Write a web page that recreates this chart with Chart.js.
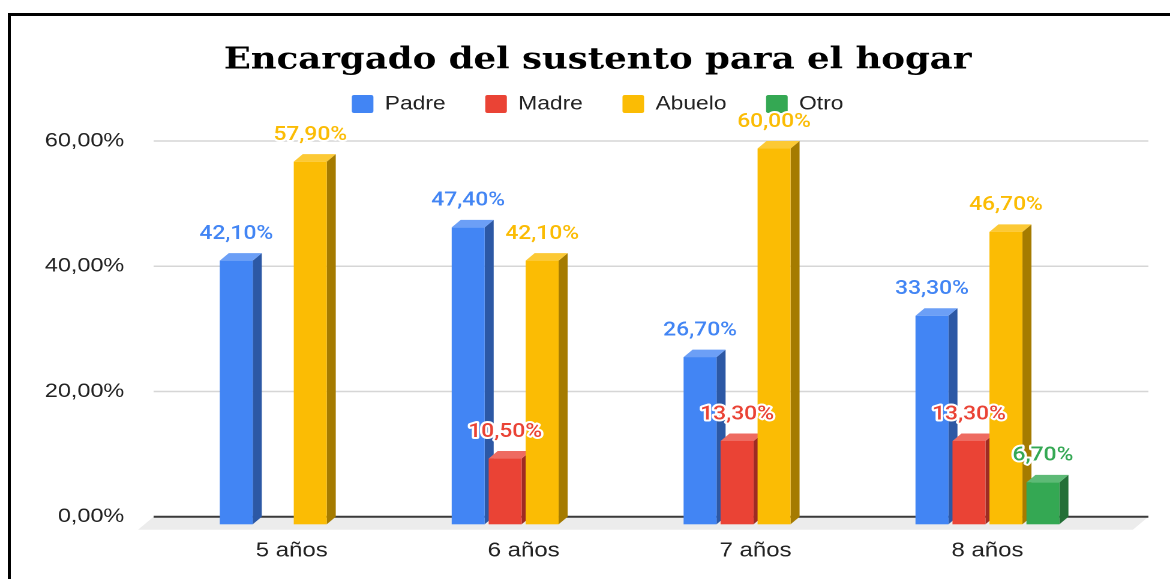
<!DOCTYPE html>
<html lang="es">
<head>
<meta charset="utf-8">
<title>Encargado del sustento para el hogar</title>
<script src="https://cdn.jsdelivr.net/npm/chart.js@4.4.1/dist/chart.umd.min.js"></script>
<style>
  html, body { margin: 0; padding: 0; background: #fff; overflow: hidden; }
  /* the original picture is stretched sideways, so the chart is drawn narrow and widened */
  #wrap { position: absolute; left: 0; top: 0; width: 996px; height: 579px; transform: scaleX(1.2); transform-origin: 0 0; }
  #frame { position: absolute; left: 8px; top: 13px; width: 1200px; height: 600px; border-left: 3px solid #000; border-top: 3px solid #000; pointer-events: none; }
</style>
</head>
<body>
<div id="wrap"><canvas id="myChart" width="996" height="579"></canvas></div>
<div id="frame"></div>
<script>
const categories = ["5 años", "6 años", "7 años", "8 años"];
const seriesNames = ["Padre", "Madre", "Abuelo", "Otro"];
const padre = [42.1, 47.4, 26.7, 33.3];
const madre = [null, 10.5, 13.3, 13.3];
const abuelo = [57.9, 42.1, 60.0, 46.7];
const otro = [null, null, null, 6.7];
const yTicks = [0, 20, 40, 60];

// front / top / side colours of each box
const faces = [
	{ front: "#4285F4", top: "#6C9FF6", side: "#2C58A5" },
	{ front: "#EA4335", top: "#EE6B61", side: "#9E2B23" },
	{ front: "#FBBC04", top: "#FCC935", side: "#A57B00" },
	{ front: "#34A853", top: "#5DBA76", side: "#236F37" },
];

const DEPTH = 7.5; // how far the front face sits from the back face
const FLOOR = 13; // depth of the grey floor strip
const sansFont = "'Liberation Sans', Arial, sans-serif";

const fmt = (v) => v.toFixed(2).replace(".", ",") + "%";

function drawBox(ctx, bar, face) {
	const { x, y, base, width } = bar.getProps(["x", "y", "base", "width"], true);
	const l = x - width / 2;
	const r = x + width / 2;

	// right side
	ctx.fillStyle = face.side;
	ctx.beginPath();
	ctx.moveTo(r - DEPTH, y + DEPTH);
	ctx.lineTo(r, y);
	ctx.lineTo(r, base);
	ctx.lineTo(r - DEPTH, base + DEPTH);
	ctx.closePath();
	ctx.fill();

	// top
	ctx.fillStyle = face.top;
	ctx.beginPath();
	ctx.moveTo(l - DEPTH, y + DEPTH);
	ctx.lineTo(l, y);
	ctx.lineTo(r, y);
	ctx.lineTo(r - DEPTH, y + DEPTH);
	ctx.closePath();
	ctx.fill();

	// front
	ctx.fillStyle = face.front;
	ctx.fillRect(l - DEPTH, y + DEPTH, width, base - y);
}

const bars3d = {
	id: "bars3d",
	beforeDatasetsDraw(chart) {
		const { ctx, chartArea } = chart;
		const yScale = chart.scales.y;
		const left = chartArea.left - 26;
		const right = chartArea.right + 30;
		const y0 = yScale.getPixelForValue(0);

		ctx.save();

		// grid lines on the back wall
		ctx.strokeStyle = "#d6d6d6";
		ctx.lineWidth = 1.5;
		yScale.ticks.forEach((t) => {
			if (t.value === 0) return;
			const y = yScale.getPixelForValue(t.value);
			ctx.beginPath();
			ctx.moveTo(left, y);
			ctx.lineTo(right, y);
			ctx.stroke();
		});

		// floor + base line
		ctx.fillStyle = "#ececec";
		ctx.beginPath();
		ctx.moveTo(left, y0);
		ctx.lineTo(right, y0);
		ctx.lineTo(right - FLOOR, y0 + FLOOR);
		ctx.lineTo(left - FLOOR, y0 + FLOOR);
		ctx.closePath();
		ctx.fill();
		ctx.strokeStyle = "#3a3a3a";
		ctx.lineWidth = 2;
		ctx.beginPath();
		ctx.moveTo(left, y0);
		ctx.lineTo(right, y0);
		ctx.stroke();

		const datasets = chart.data.datasets;
		const metas = datasets.map((ds, i) => chart.getDatasetMeta(i));

		// category by category so each front face hides the side of the previous box
		categories.forEach((c, j) => {
			metas.forEach((meta, i) => {
				if (datasets[i].data[j] == null) return;
				drawBox(ctx, meta.data[j], faces[i]);
			});
		});

		// value labels with a white halo
		ctx.font = "500 19px Roboto, sans-serif";
		ctx.textAlign = "center";
		ctx.textBaseline = "middle";
		ctx.lineJoin = "round";
		ctx.lineWidth = 4;
		ctx.strokeStyle = "#fff";
		metas.forEach((meta, i) => {
			meta.data.forEach((bar, j) => {
				const v = datasets[i].data[j];
				if (v == null) return;
				const tx = bar.x - DEPTH;
				const ty = bar.y - 19;
				ctx.strokeText(fmt(v), tx, ty);
				ctx.fillStyle = faces[i].front;
				ctx.fillText(fmt(v), tx, ty);
			});
		});

		ctx.restore();
		return false;
	},
};

const ctx = document.getElementById("myChart").getContext("2d");
const myChart = new Chart(ctx, {
	type: "bar",
	data: {
		labels: categories,
		datasets: [padre, madre, abuelo, otro].map((values, i) => ({
			label: seriesNames[i],
			data: values,
			yAxisID: "y",
			backgroundColor: faces[i].front,
			borderWidth: 0,
			categoryPercentage: 0.638,
			barPercentage: 0.892,
		})),
	},
	options: {
		responsive: false,
		animation: false,
		devicePixelRatio: 2,
		layout: { padding: 0 },
		plugins: {
			title: {
				display: true,
				text: "Encargado del sustento para el hogar",
				color: "#000",
				font: { family: "'DejaVu Serif', serif", size: 29.6, weight: "bold", lineHeight: 1.2 },
				padding: { top: 43, bottom: -17 },
			},
			legend: {
				display: true,
				labels: {
					color: "#222",
					font: { family: sansFont, size: 19 },
					boxWidth: 18,
					boxHeight: 18,
					padding: 33,
					useBorderRadius: true,
					borderRadius: 2,
				},
			},
			// empty spacer between legend and plot
			subtitle: {
				display: true,
				text: "",
				weight: 500,
				font: { size: 10, lineHeight: 1 },
				padding: { top: 0, bottom: 7.5 },
			},
			tooltip: { enabled: false },
		},
		scales: {
			x: {
				grid: { display: false, drawTicks: false },
				border: { display: false },
				ticks: {
					color: "#222",
					font: { family: sansFont, size: 20 },
					padding: 22,
					labelOffset: -DEPTH,
				},
				afterFit: (scale) => {
					scale.height = 60.5;
				},
			},
			y: {
				min: yTicks[0],
				max: yTicks[yTicks.length - 1],
				grid: { display: false, drawTicks: false },
				border: { display: false },
				ticks: {
					stepSize: yTicks[1] - yTicks[0],
					color: "#222",
					font: { family: sansFont, size: 19.5 },
					padding: 50.5,
					callback: (v) => fmt(v),
				},
				afterFit: (scale) => {
					scale.width = 154;
				},
			},
			// blank right margin so title and legend sit where they do in the original
			y2: {
				position: "right",
				min: yTicks[0],
				max: yTicks[yTicks.length - 1],
				grid: { display: false, drawTicks: false },
				border: { display: false },
				ticks: { display: false },
				afterFit: (scale) => {
					scale.width = 69;
				},
			},
		},
	},
	plugins: [bars3d],
});
</script>
</body>
</html>
